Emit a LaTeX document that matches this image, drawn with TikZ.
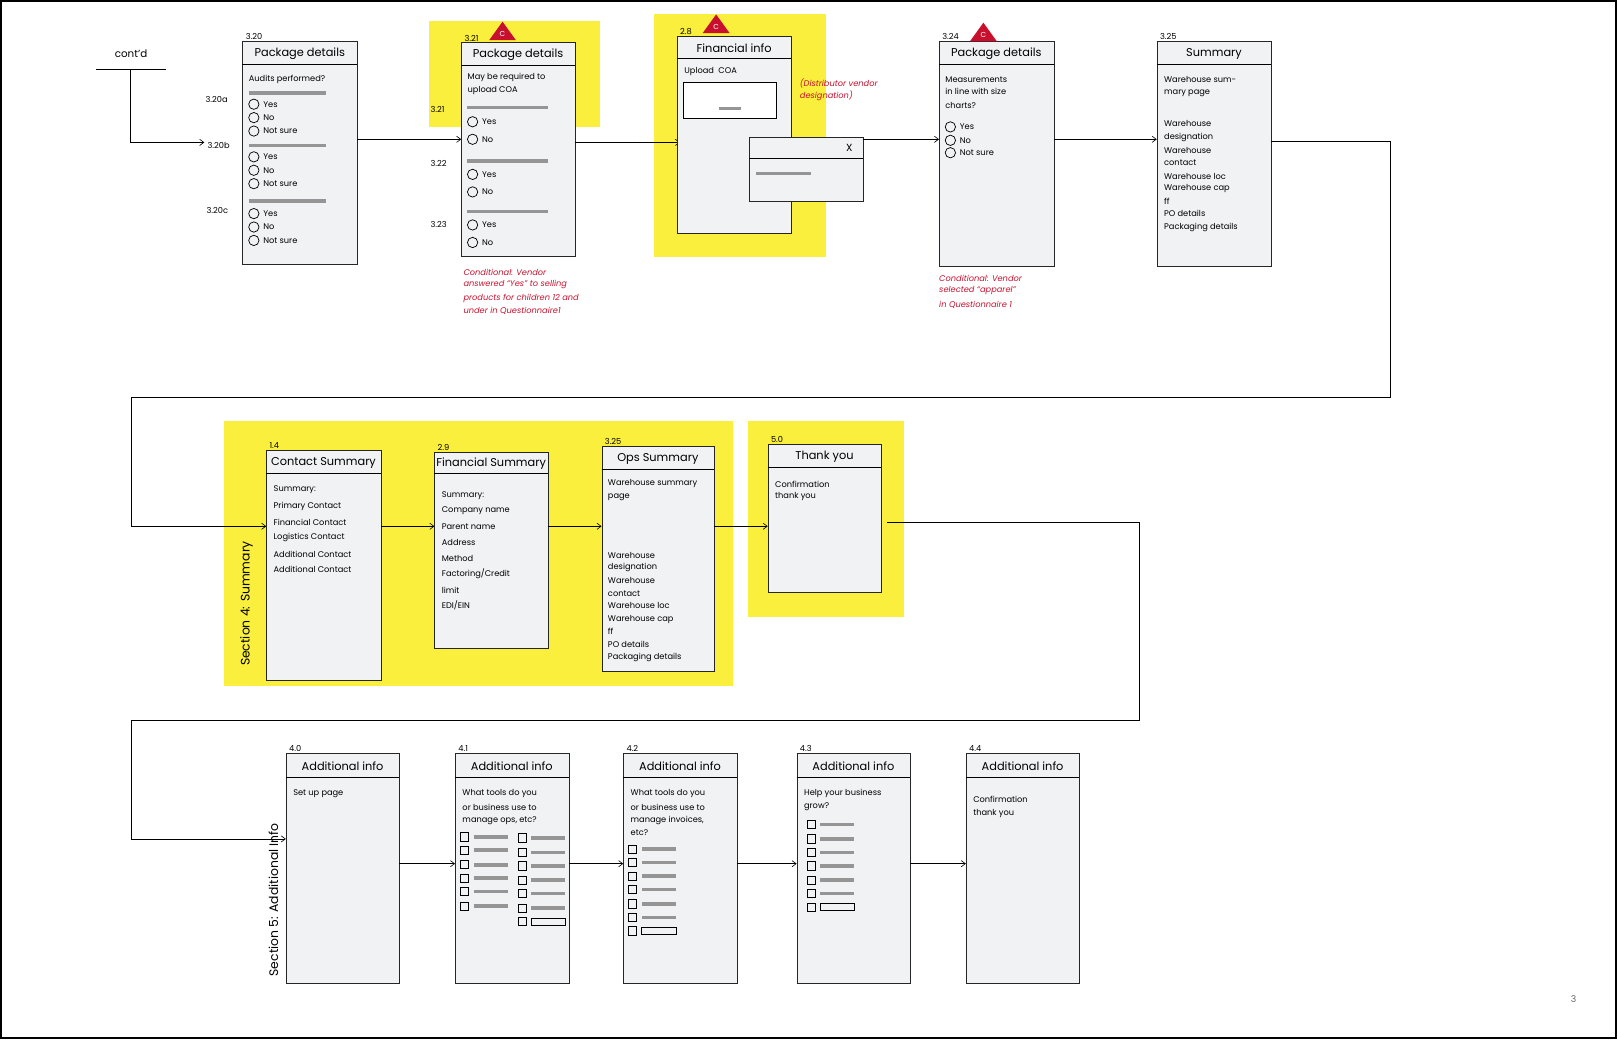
\documentclass[tikz,border=0pt]{standalone}
\usepackage{fontspec}
\setmainfont{Poppins}
\usetikzlibrary{arrows.meta}
\definecolor{yel}{HTML}{FAEF3C}
\definecolor{boxfill}{HTML}{F1F2F3}
\definecolor{red1}{HTML}{C8102E}
\definecolor{bar}{HTML}{959595}
\tikzset{
 x=1pt,y=-1pt,
 box/.style={draw=black!85,line width=0.9pt,fill=boxfill,anchor=north west,inner sep=0},
 ttl/.style={font=\fontsize{11}{12}\selectfont,anchor=center},
 txt/.style={font=\fontsize{8}{9}\selectfont,anchor=west,inner sep=0},
 num/.style={font=\fontsize{8}{9}\selectfont,anchor=south west,inner sep=0},
 rtxt/.style={font=\fontsize{8}{9}\selectfont\itshape,text=red1,anchor=west,inner sep=0},
 arr/.style={draw=black,line width=0.6pt,-{Straight Barb[length=4pt,width=6pt]}},
 ln/.style={draw=black,line width=0.6pt},
 gbar/.style={draw=bar,line width=3.5pt},
 rad/.style={draw=black,line width=0.7pt},
}
\newcommand{\wbox}[8]{% name x y w h headerh title label
 \node[box,minimum width=#4pt,minimum height=#5pt] (#1) at (#2,#3) {};
 \draw[line width=0.9pt] (#2,#3+#6) -- (#2+#4,#3+#6);
 \node[ttl] at (#2+#4/2,#3+#6/2+1) {#7};
 \node[num] at (#2+3,#3-1) {#8};
}
\newcommand{\radio}[3]{\draw[rad] (#1+5,#2) circle (5); \node[txt] at (#1+14,#2) {#3};}
\newcommand{\chk}[2]{\draw[rad] (#1,#2-4) rectangle (#1+8,#2+4); \draw[gbar] (#1+13,#2) -- (#1+46,#2);}
\newcommand{\chkE}[2]{\draw[rad] (#1,#2-4) rectangle (#1+8,#2+4); \draw[rad] (#1+13,#2-3.5) rectangle (#1+46,#2+3.5);}
\newcommand{\ctri}[2]{\fill[red1] (#1-13,#2+9) -- (#1+13,#2+9) -- (#1,#2-9) -- cycle; \node[font=\fontsize{7}{8}\selectfont,text=white,inner sep=0] at (#1,#2+3) {C};}
\begin{document}
\begin{tikzpicture}
\useasboundingbox (0,0) rectangle (1568,1008);
\draw[line width=1.5pt] (1,1) rectangle (1566,1006);
\node[font=\fontsize{9}{10}\selectfont,text=black!60] (pg) at (1525,968) {3};
% yellow
\fill[yel] (416,20) rectangle (581,123);
\fill[yel] (634,14) rectangle (800,249);
\fill[yel] (217,408) rectangle (710,665);
\fill[yel] (725,408) rectangle (876,598);
% cont'd
\node[font=\fontsize{10}{11}\selectfont] (cont) at (127,52) {cont’d};
\draw[ln] (93,67) -- (161,67);
\draw[arr] (126,67) -- (126,138) -- (198,138);
% 3.20
\wbox{b320}{235}{40}{111}{216}{22}{Package details}{3.20}
\node[txt] at (241,77) {Audits performed?};
\node[txt] at (199,96) {3.20a};
\node[txt] at (201,141) {3.20b};
\node[txt] at (200,204) {3.20c};
\draw[gbar] (241,90) -- (316,90);
\radio{241}{101}{Yes}\radio{241}{114}{No}\radio{241}{127}{Not sure}
\draw[gbar] (241,141) -- (316,141);
\radio{241}{152}{Yes}\radio{241}{165}{No}\radio{241}{178}{Not sure}
\draw[gbar] (241,195) -- (316,195);
\radio{241}{207}{Yes}\radio{241}{220}{No}\radio{241}{233}{Not sure}
\draw[arr] (346,135) -- (447,135);
% 3.21
\wbox{b321}{447}{41}{110}{207}{22}{Package details}{3.21}
\ctri{487}{30}
\node[txt] at (453,75) {May be required to};
\node[txt] at (453,88) {upload COA};
\draw[gbar] (453,104) -- (531,104);
\radio{453}{118}{Yes}\radio{453}{135}{No}
\draw[gbar] (453,156) -- (531,156);
\radio{453}{169}{Yes}\radio{453}{186}{No}
\draw[gbar] (453,205) -- (531,205);
\radio{453}{218}{Yes}\radio{453}{235}{No}
\node[txt] at (417,106) {3.21};
\node[txt] at (417,158) {3.22};
\node[txt] at (417,218) {3.23};
\node[rtxt] at (449,264) {Conditional: Vendor};
\node[rtxt] at (449,276) {answered “Yes” to selling};
\node[rtxt] at (449,289) {products for children 12 and};
\node[rtxt] at (449,301) {under in Questionnaire1};
\draw[arr] (557,138) -- (659,138);
% 2.8
\wbox{b28}{656}{35}{111}{191}{22}{Financial info}{2.8}
\ctri{694}{23}
\node[txt] at (663,69) {Upload\ \ COA};
\draw[line width=0.8pt,fill=white] (662,80) rectangle (752,115);
\draw[gbar] (697,105) -- (718,105);
\node[rtxt] at (775,81) {(Distributor vendor};
\node[rtxt] at (775,93) {designation)};
\node[box,minimum width=110pt,minimum height=62pt] (pop) at (726,133) {};
\draw[line width=0.9pt] (726,154) -- (836,154);
\node[font=\fontsize{10}{10}\selectfont] at (823,143) {X};
\draw[gbar] (733,168) -- (786,168);
\draw[arr] (836,135) -- (910,135);
% 3.24
\wbox{b324}{910}{40}{111}{218}{22}{Package details}{3.24}
\ctri{953}{31}
\node[txt] at (916,77) {Measurements};
\node[txt] at (916,89) {in line with size};
\node[txt] at (916,102) {charts?};
\radio{916}{123}{Yes}\radio{916}{136}{No}\radio{916}{148}{Not sure}
\node[rtxt] at (910,270) {Conditional: Vendor};
\node[rtxt] at (910,282) {selected “apparel”};
\node[rtxt] at (910,295) {in Questionnaire 1};
\draw[arr] (1021,135) -- (1121,135);
% 3.25
\wbox{b325}{1121}{40}{111}{218}{22}{Summary}{3.25}
\foreach \t/\yy in {{Warehouse sum-}/77,{mary page}/90,{Warehouse}/120,{designation}/133,{Warehouse}/146,{contact}/158,{Warehouse loc}/171,{Warehouse cap}/183,{ff}/195,{PO details}/207,{Packaging details}/220}
 \node[txt] at (1128,\yy) {\t};
\draw[arr] (1232,137) -- (1347,137) -- (1347,385) -- (127,385) -- (127,510) -- (258,510);
% row 2
\node[rotate=90,font=\fontsize{12}{13}\selectfont] (s4) at (239,585) {Section 4: Summary};
\wbox{b14}{258}{436}{111}{223}{23}{Contact Summary}{1.4}
\foreach \t/\yy in {{Summary:}/475,{Primary Contact}/491,{Financial Contact}/506,{Logistics Contact}/521,{Additional Contact}/537,{Additional Contact}/552}
 \node[txt] at (265,\yy) {\t};
\draw[arr] (369,510) -- (421,510);
\wbox{b29}{421}{438}{110}{190}{21}{Financial Summary}{2.9}
\foreach \t/\yy in {{Summary:}/480,{Company name}/495,{Parent name}/510,{Address}/526,{Method}/541,{Factoring/Credit}/556,{limit}/572,{EDI/EIN}/587}
 \node[txt] at (428,\yy) {\t};
\draw[arr] (531,510) -- (583,510);
\wbox{b325b}{583}{432}{109}{218}{23}{Ops Summary}{3.25}
\foreach \t/\yy in {{Warehouse summary}/469,{page}/482,{Warehouse}/538,{designation}/550,{Warehouse}/563,{contact}/575,{Warehouse loc}/587,{Warehouse cap}/600,{ff}/612,{PO details}/624,{Packaging details}/637}
 \node[txt] at (589,\yy) {\t};
\draw[arr] (692,510) -- (744,510);
\wbox{b50}{744}{430}{110}{144}{23}{Thank you}{5.0}
\node[txt] at (751,469) {Confirmation};
\node[txt] at (751,481) {thank you};
\draw[arr] (860,506) -- (1104,506) -- (1104,698) -- (127,698) -- (127,813) -- (277,813);
% row 3
\node[rotate=90,font=\fontsize{12}{13}\selectfont] (s5) at (265,872) {Section 5: Additional Info};
\wbox{b40}{277}{730}{110}{223}{23}{Additional info}{4.0}
\wbox{b41}{441}{730}{110}{223}{23}{Additional info}{4.1}
\wbox{b42}{604}{730}{110}{223}{23}{Additional info}{4.2}
\wbox{b43}{772}{730}{110}{223}{23}{Additional info}{4.3}
\wbox{b44}{936}{730}{110}{223}{23}{Additional info}{4.4}
\draw[arr] (387,837) -- (441,837);
\draw[arr] (551,837) -- (604,837);
\draw[arr] (714,837) -- (772,837);
\draw[arr] (882,837) -- (936,837);
\node[txt] at (284,769) {Set up page};
\node[txt] at (448,769) {What tools do you};
\node[txt] at (448,782) {or business use to};
\node[txt] at (448,795) {manage ops, etc?};
\foreach \yy in {811,824,838,851,864,878} {\chk{446}{\yy}}
\foreach \yy in {812,826,839,853,866,880} {\chk{502}{\yy}}
\chkE{502}{893}
\node[txt] at (611,769) {What tools do you};
\node[txt] at (611,782) {or business use to};
\node[txt] at (611,795) {manage invoices,};
\node[txt] at (611,807) {etc?};
\foreach \yy in {823,836,849,862,876,889} {\chk{609}{\yy}}
\chkE{609}{902}
\node[txt] at (779,769) {Help your business};
\node[txt] at (779,782) {grow?};
\foreach \yy in {799,813,826,839,853,866} {\chk{782}{\yy}}
\chkE{782}{879}
\node[txt] at (943,775) {Confirmation};
\node[txt] at (943,788) {thank you};
\end{tikzpicture}
\end{document}
